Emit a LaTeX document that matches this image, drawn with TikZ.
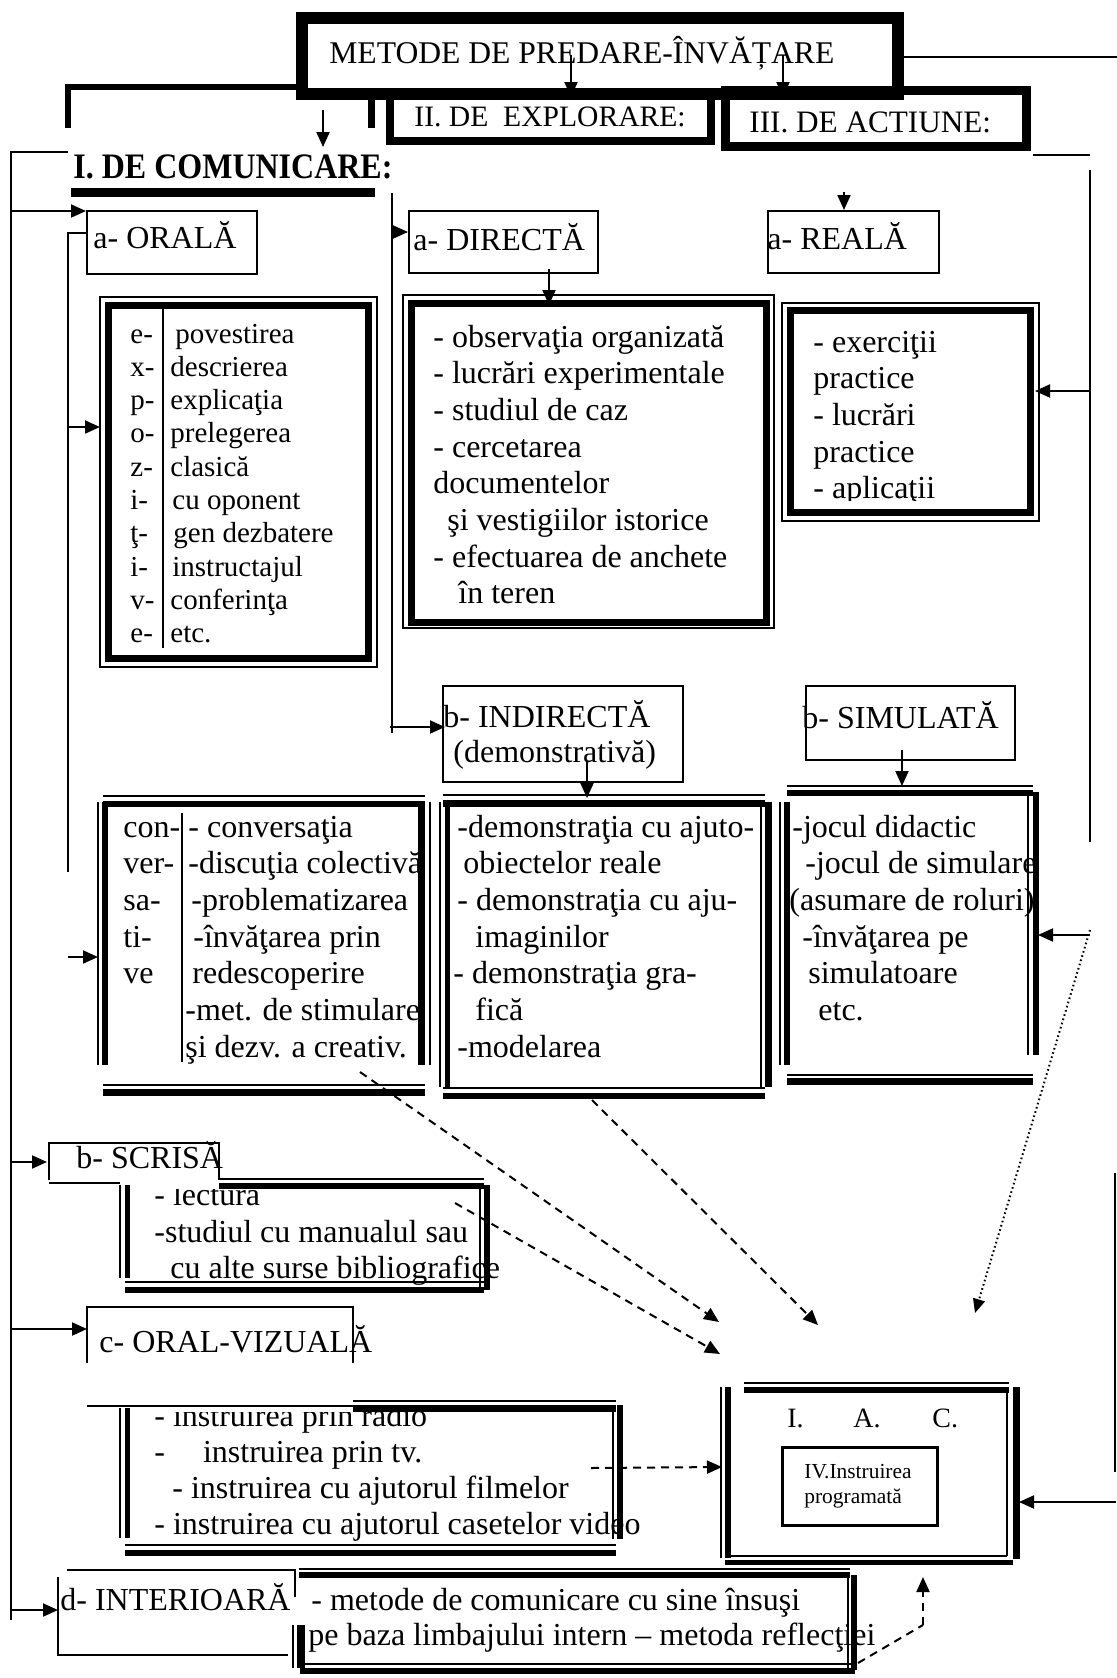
\documentclass[tikz,border=0pt]{standalone}
\usepackage{fontspec}
\setmainfont{Liberation Serif}
\usetikzlibrary{arrows.meta}
\newcommand\bodyfont{\fontsize{16}{18.35}\selectfont}
\newcommand\listfont{\fontsize{14.5}{16.65}\selectfont}
\begin{document}
\begin{tikzpicture}[x=0.5pt,y=-0.5pt,
  thinln/.style={line width=1pt},
  arr/.style={line width=1pt,-{Triangle[length=7.5pt,width=6.5pt]}},
  dasharr/.style={line width=1pt,dash pattern=on 4pt off 3pt,-{Triangle[length=7.5pt,width=6.5pt]}},
  dotarr/.style={line width=1pt,dash pattern=on 0.8pt off 1.4pt,-{Triangle[length=7pt,width=6pt]}},
  txt/.style={anchor=base west,inner sep=0pt,font=\bodyfont},
  lst/.style={anchor=base west,inner sep=0pt,font=\listfont},
]
\useasboundingbox (0,0) rectangle (1117,1678);

% ---------- top level ----------
\draw[line width=4pt] (390,96) rectangle (711,141);
\draw[line width=4.5pt] (725.5,90) rectangle (1026.5,146);
\draw[line width=6pt] (302,18) rectangle (898,94);
\draw[line width=3.3pt] (68,128) -- (68,87) -- (300,87);
\draw[line width=3.5pt] (371,100) -- (371,128);
\node[txt,font=\fontsize{15.8}{18}\selectfont] (title) at (329,63) {METODE DE PREDARE-ÎNVĂȚARE};
\draw[arr] (571,55) -- (571,97);
\draw[arr] (783,55) -- (783,97);
\node[txt,font=\fontsize{14.8}{17}\selectfont] (explor) at (414,126) {II. DE\ \ EXPLORARE:};
\node[txt,font=\fontsize{15.6}{18}\selectfont] (actiune) at (749,132) {III. DE ACTIUNE:};
\draw[arr] (323,110) -- (323,147);
\node[txt,font=\bfseries\fontsize{16}{18}\selectfont] (comunic) at (73,178) {\scalebox{1}[1.12]{I. DE COMUNICARE:}};
\draw[line width=4.5pt] (71,192) -- (375,192);

% ---------- right side connectors ----------
\draw[thinln] (904,57) -- (1117,57);
\draw[thinln] (1033,155) -- (1090,155);
\draw[thinln] (1090,170) -- (1090,842);
\draw[arr] (1090,391) -- (1035,391);
\draw[arr] (1090,935) -- (1038,935);
\draw[dotarr] (1090,930) -- (975,1313);
\draw[thinln] (1115,1173) -- (1115,1472);
\draw[arr] (1116,1502) -- (1019,1502);

% ---------- left side connectors ----------
\draw[thinln] (68,152) -- (11,152) -- (11,1620);
\draw[arr] (11,211) -- (86,211);
\draw[arr] (11,1162) -- (47,1162);
\draw[arr] (11,1329) -- (87,1329);
\draw[arr] (11,1610) -- (58,1610);
\draw[thinln] (87,233) -- (68,233) -- (68,872);
\draw[arr] (68,427) -- (100,427);
\draw[arr] (68,957) -- (98,957);

% ---------- I a: orala ----------
\draw[thinln] (87,211) rectangle (257,274);
\node[txt] (orala) at (93,248) {a- ORALĂ};
\draw[thinln] (100,297) rectangle (377,667);
\draw[line width=3.5pt] (108,305) rectangle (368.5,658.5);
\draw[thinln] (163,308) -- (163,648);
\node[lst] (expozL) at (130,343) {\parbox[t]{60pt}{e-\\x-\\p-\\o-\\z-\\i-\\ţ-\\i-\\v-\\e-}};
\node[lst] (expozR) at (170,343) {\parbox[t]{150pt}{\hspace*{2.5pt}povestirea\\descrierea\\explicaţia\\prelegerea\\clasică\\\hspace*{1pt}cu oponent\\\hspace*{1.5pt}gen dezbatere\\\hspace*{1pt}instructajul\\conferinţa\\etc.}};

% conversative
\draw[thinln] (103,796) -- (425,796);
\draw[line width=3pt] (103,803.5) -- (425,803.5);
\draw[thinln] (98,802) -- (98,1065);
\draw[line width=3pt] (105,802) -- (105,1065);
\draw[line width=3.5pt] (421.5,802) -- (421.5,1065);
\draw[thinln] (430,802) -- (430,1065);
\draw[thinln] (103,1085) -- (425,1085);
\draw[line width=3.5pt] (103,1092.5) -- (425,1092.5);
\draw[thinln] (182,813) -- (182,1062);
\node[txt] (convL) at (123,837) {\parbox[t]{60pt}{con-\\ver-\\sa-\\ti-\\ve}};
\node[txt] (convR) at (185,837) {\parbox[t]{200pt}{\hspace*{1.5pt}- conversaţia\\\hspace*{1.5pt}-discuţia colectivă\\\hspace*{3pt}-problematizarea\\\hspace*{4pt}-învăţarea prin\\\hspace*{3.5pt}redescoperire\\-met. de stimulare\\şi dezv. a creativ.}};

% ---------- II: explorare ----------
\draw[thinln] (392,193) -- (392,733);
\draw[arr] (392,232) -- (408,232);
\draw[thinln] (409,211) rectangle (598,273);
\node[txt] (directa) at (413,250) {a- DIRECTĂ};
\draw[arr] (549,269) -- (549,305);
\draw[thinln] (403,295) rectangle (774,628);
\draw[line width=3.5pt] (411.5,303.5) rectangle (766.5,622);
\node[txt] (directList) at (433,347) {\parbox[t]{200pt}{- observaţia organizată\\- lucrări experimentale\\- studiul de caz\\- cercetarea\\documentelor\\\hspace*{7pt}şi vestigiilor istorice\\- efectuarea de anchete\\\hspace*{12.5pt}în teren}};

\draw[arr] (390,727) -- (445,727);
\draw[thinln] (443,686) rectangle (683,782);
\node[txt] (indirecta) at (443,727) {b- INDIRECTĂ};
\node[txt] (demonstr) at (453,762) {(demonstrativă)};
\draw[arr] (587,762) -- (587,798);
\draw[thinln] (443,795) -- (765,795);
\draw[line width=3.5pt] (443,803.5) -- (765,803.5);
\draw[thinln] (440,802) -- (440,1087);
\draw[line width=2.5pt] (447.5,802) -- (447.5,1087);
\draw[thinln] (761,802) -- (761,1087);
\draw[line width=3.5pt] (768.5,802) -- (768.5,1087);
\draw[thinln] (443,1088) -- (765,1088);
\draw[line width=3.3pt] (443,1096) -- (765,1096);
\node[txt] (indirList) at (453,837) {\parbox[t]{200pt}{\hspace*{2pt}-demonstraţia cu ajuto-\\\hspace*{5pt}obiectelor reale\\\hspace*{2pt}- demonstraţia cu aju-\\\hspace*{11pt}imaginilor\\- demonstraţia gra-\\\hspace*{11pt}fică\\\hspace*{2pt}-modelarea}};

% ---------- III: actiune ----------
\draw[arr] (844,192) -- (844,210);
\draw[thinln] (768,211) rectangle (939,273);
\node[txt] (reala) at (767,249) {a- REALĂ};
\draw[thinln] (782,303) rectangle (1039,521);
\draw[line width=3.5pt] (790,310) rectangle (1030.5,512.5);
\begin{scope}
  \clip (782,303) rectangle (1039,500);
  \node[txt] (realList) at (813,352) {\parbox[t]{120pt}{- exerciţii\\practice\\- lucrări\\practice\\- aplicaţii}};
\end{scope}

\draw[thinln] (806,686) rectangle (1015,760);
\node[txt] (simulata) at (802,728) {b- SIMULATĂ};
\draw[arr] (902,750) -- (902,786);
\draw[thinln] (787,786) -- (1033,786);
\draw[line width=3pt] (787,793) -- (1033,793);
\draw[thinln] (780,802) -- (780,1065);
\draw[line width=3pt] (787,802) -- (787,1065);
\draw[thinln] (1028,792) -- (1028,1055);
\draw[line width=3pt] (1036,792) -- (1036,1055);
\draw[thinln] (787,1075) -- (1033,1075);
\draw[line width=3.5pt] (787,1081.5) -- (1033,1081.5);
\node[txt] (simList) at (789,837) {\parbox[t]{140pt}{\hspace*{1.5pt}-jocul didactic\\\hspace*{8pt}-jocul de simulare\\(asumare de roluri)\\\hspace*{6.5pt}-învăţarea pe\\\hspace*{9.5pt}simulatoare\\\hspace*{14.5pt}etc.}};

% ---------- I b: scrisa ----------
\draw[thinln] (49,1180) -- (49,1143) -- (219,1143) -- (219,1180);
\draw[thinln] (49,1183) -- (120,1183);
\node[txt] (scrisa) at (76,1168) {b- SCRISĂ};
\draw[thinln] (219,1179) -- (484,1179);
\draw[line width=3pt] (219,1186) -- (484,1186);
\draw[thinln] (120,1185) -- (120,1278);
\draw[line width=2.5pt] (127.5,1185) -- (127.5,1278);
\draw[thinln] (480,1185) -- (480,1290);
\draw[line width=3pt] (487,1185) -- (487,1290);
\draw[thinln] (125,1282) -- (484,1282);
\draw[line width=3pt] (125,1290) -- (484,1290);
\begin{scope}
  \clip (120,1189) rectangle (700,1300);
  \node[txt] (lectura) at (154,1205) {- lectura};
\end{scope}
\node[txt] (studiul) at (154,1242) {-studiul cu manualul sau};
\node[txt] (surse) at (170,1278) {cu alte surse bibliografice};

% ---------- I c: oral-vizuala ----------
\draw[thinln] (87,1363) -- (87,1307) -- (353,1307) -- (353,1363);
\node[txt] (oralviz) at (99,1352) {c- ORAL-VIZUALĂ};
\draw[thinln] (87,1406) -- (353,1406);
\draw[thinln] (353,1401) -- (616,1401);
\draw[line width=3.5pt] (353,1408.5) -- (616,1408.5);
\draw[thinln] (120,1408) -- (120,1538);
\draw[line width=2.5pt] (127.5,1408) -- (127.5,1538);
\draw[thinln] (613,1405) -- (613,1539);
\draw[line width=3pt] (620,1405) -- (620,1539);
\draw[thinln] (125,1545) -- (616,1545);
\draw[line width=3pt] (125,1552.5) -- (616,1552.5);
\begin{scope}
  \clip (120,1412) rectangle (700,1560);
  \node[txt,font=\fontsize{16}{18}\selectfont] (media) at (154,1426) {\parbox[t]{260pt}{- instruirea prin radio\\-\hspace*{19pt}instruirea prin tv.\\\hspace*{9pt}- instruirea cu ajutorul filmelor\\- instruirea cu ajutorul casetelor video}};
\end{scope}

% ---------- I d: interioara ----------
\draw[thinln] (67,1570) -- (295,1570) -- (295,1597);
\draw[thinln] (58,1577) -- (58,1655) -- (288,1655);
\node[txt] (interioara) at (60,1610) {d- INTERIOARĂ};
\draw[thinln] (299,1569) -- (850,1569);
\draw[line width=3pt] (299,1575) -- (850,1575);
\draw[thinln] (848,1575) -- (848,1670);
\draw[line width=3pt] (854,1575) -- (854,1670);
\draw[thinln] (293,1625) -- (293,1668);
\draw[line width=4pt] (301,1625) -- (301,1668);
\draw[thinln] (300,1664) -- (855,1664);
\draw[line width=3pt] (300,1670.5) -- (855,1670.5);
\node[txt] (sine) at (311,1610) {- metode de comunicare cu sine însuşi};
\node[txt] (reflectie) at (308,1645) {pe baza limbajului intern – metoda reflecţiei};

% ---------- I.A.C. ----------
\draw[thinln] (721,1387) -- (721,1558);
\draw[line width=3pt] (728,1387) -- (728,1558);
\draw[thinln] (744,1383) -- (1009,1383);
\draw[line width=3pt] (744,1390) -- (1009,1390);
\draw[thinln] (1007,1387) -- (1007,1556);
\draw[line width=3.5pt] (1016,1387) -- (1016,1559);
\draw[thinln] (731,1556) -- (1007,1556);
\draw[line width=2.5pt] (725,1562.5) -- (1013,1562.5);
\node[txt,font=\fontsize{14}{16}\selectfont] (iacI) at (787,1427) {I.};
\node[txt,font=\fontsize{14}{16}\selectfont] (iacA) at (853,1427) {A.};
\node[txt,font=\fontsize{14}{16}\selectfont] (iacC) at (932,1427) {C.};
\draw[line width=1.5pt] (782,1447) rectangle (937,1525);
\node[txt,font=\fontsize{10.7}{12.5}\selectfont] (progr) at (804,1478) {\parbox[t]{80pt}{IV.Instruirea\\programată}};

% ---------- dashed links towards I.A.C. ----------
\draw[dasharr] (592,1100) -- (818,1325);
\draw[dasharr] (360,1072) -- (719,1322);
\draw[dasharr] (455,1203) -- (720,1354);
\draw[dasharr] (591,1468) -- (722,1467);
\draw[line width=1pt,dash pattern=on 4pt off 3pt] (858,1663) -- (923,1625);
\draw[dasharr] (923,1625) -- (923,1577);

\end{tikzpicture}
\end{document}
